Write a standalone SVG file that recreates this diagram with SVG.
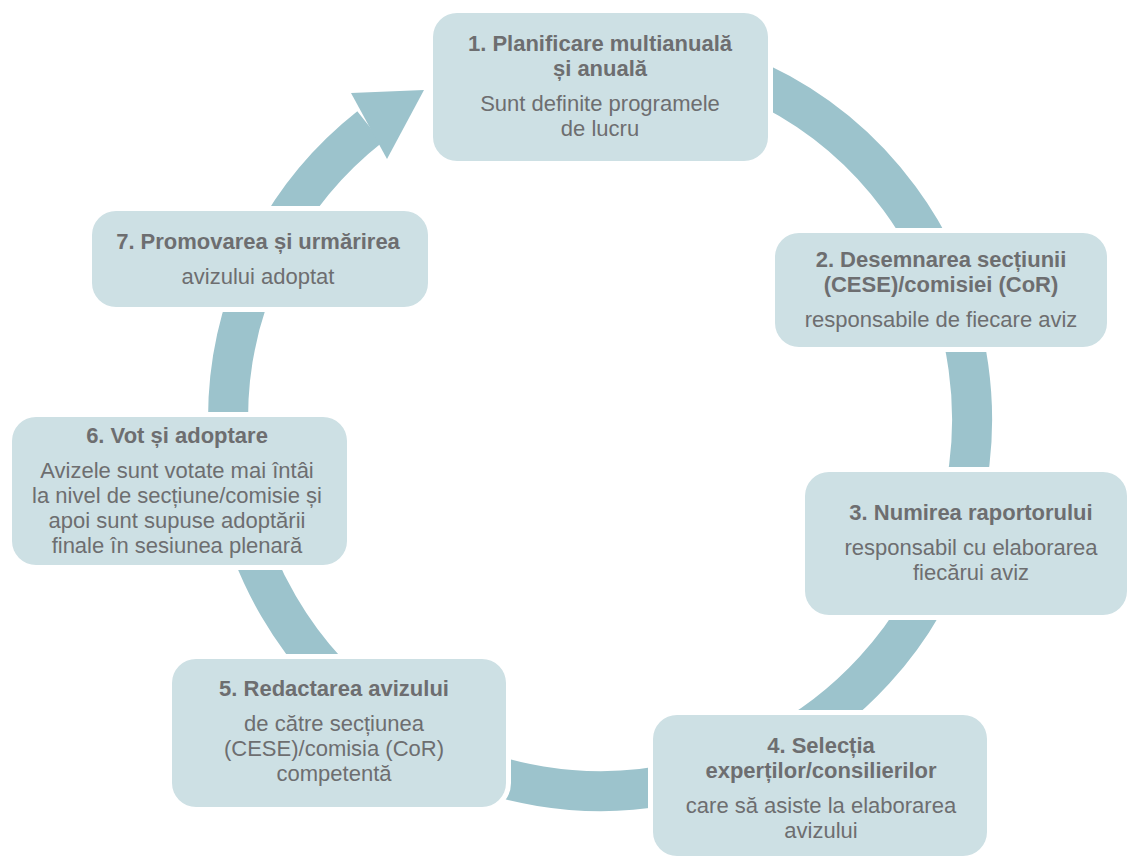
<svg xmlns="http://www.w3.org/2000/svg" width="1129" height="858" viewBox="0 0 1129 858">
<style>
.box{fill:#cde0e4;stroke:#ffffff;stroke-width:10;paint-order:stroke}
.t{font-family:"Liberation Sans",Arial,sans-serif;font-size:22px;fill:#6d6e70;text-anchor:middle}
.b{font-weight:bold}
.ring{fill:none;stroke:#9cc3cc;stroke-width:40}
</style>
<rect width="1129" height="858" fill="#ffffff"/>
<g id="connectors">
<path class="ring" d="M 600 47 A 372 372 0 1 1 369.7 126.9"/>
<polygon points="351,93 424,90 387,159" fill="#9cc3cc"/>
</g>
<g id="node1">
<rect class="box" x="433" y="13" width="335" height="148" rx="24"/>
<text class="t b" x="600" y="51">1. Planificare multianuală</text>
<text class="t b" x="600" y="76">și anuală</text>
<text class="t" x="600" y="111">Sunt definite programele</text>
<text class="t" x="600" y="136">de lucru</text>
</g>
<g id="node2">
<rect class="box" x="775" y="233" width="332" height="114" rx="24"/>
<text class="t b" x="941" y="267">2. Desemnarea secțiunii</text>
<text class="t b" x="941" y="292">(CESE)/comisiei (CoR)</text>
<text class="t" x="941" y="327">responsabile de fiecare aviz</text>
</g>
<g id="node3">
<rect class="box" x="805" y="472" width="322" height="143" rx="24"/>
<text class="t b" x="971" y="520">3. Numirea raportorului</text>
<text class="t" x="971" y="555">responsabil cu elaborarea</text>
<text class="t" x="971" y="580">fiecărui aviz</text>
</g>
<g id="node4">
<rect class="box" x="653" y="715" width="334" height="141" rx="24"/>
<text class="t b" x="821" y="753">4. Selecția</text>
<text class="t b" x="821" y="778">experților/consilierilor</text>
<text class="t" x="821" y="813">care să asiste la elaborarea</text>
<text class="t" x="821" y="838">avizului</text>
</g>
<g id="node5">
<rect class="box" x="172" y="659" width="334" height="148" rx="24"/>
<text class="t b" x="334" y="696">5. Redactarea avizului</text>
<text class="t" x="334" y="731">de către secțiunea</text>
<text class="t" x="334" y="756">(CESE)/comisia (CoR)</text>
<text class="t" x="334" y="781">competentă</text>
</g>
<g id="node6">
<rect class="box" x="12" y="417" width="335" height="148" rx="24"/>
<text class="t b" x="177" y="443">6. Vot și adoptare</text>
<text class="t" x="177" y="478">Avizele sunt votate mai întâi</text>
<text class="t" x="177" y="503">la nivel de secțiune/comisie și</text>
<text class="t" x="177" y="528">apoi sunt supuse adoptării</text>
<text class="t" x="177" y="553">finale în sesiunea plenară</text>
</g>
<g id="node7">
<rect class="box" x="92" y="211" width="336" height="96" rx="24"/>
<text class="t b" x="258" y="249">7. Promovarea și urmărirea</text>
<text class="t" x="258" y="284">avizului adoptat</text>
</g>
</svg>
